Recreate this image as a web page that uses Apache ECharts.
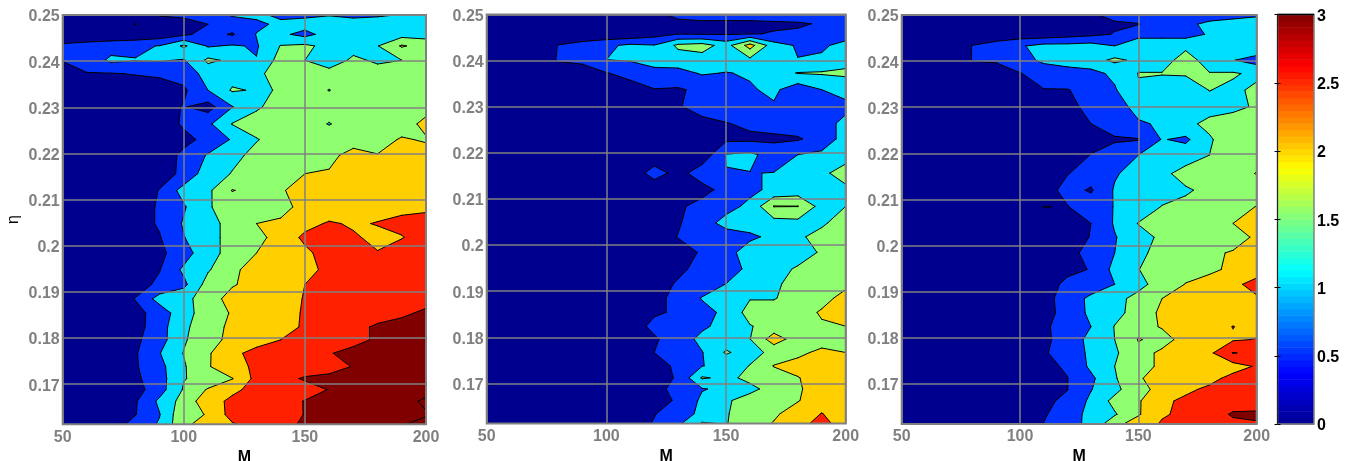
<!DOCTYPE html>
<html><head><meta charset="utf-8">
<style>html,body{margin:0;padding:0;background:#fff}#c{width:1352px;height:461px}</style>
<script src="https://cdn.jsdelivr.net/npm/echarts@6/dist/echarts.min.js"></script>
</head><body><div id="c"></div>
<script>
const mValues=[50,60,70,80,90,100,110,120,130,140,150,160,170,180,190,200];
const etaValues=[.25,.248,.2458,.2433,.2402,.2373,.2337,.2301,.2264,.223,.2196,.2156,.212,.2084,.2048,.2018,.1984,.1948,.1916,.1885,.1854,.1824,.1796,.1767,.1738,.1712,.1688,.1663,.1634,.1613];
const panelA=[
[.1,.1,.1,.2,.55,.6,.7,1.05,1.1,.9,.9,.98,.9,.95,1.02,1.1],
[.1,.1,.1,.52,.1,.3,.5,.75,.9,1.1,1.2,1.2,1.2,1.2,1.2,1.2],
[.1,.1,.1,.1,.2,.4,.7,.45,1.02,1.1,.85,1.2,1.2,1.2,1.3,1.3],
[.6,.7,.8,.9,1.02,1.58,.95,1.05,.95,1.52,1.6,1.35,1.3,1.48,2.05,1.8],
[.52,.7,1.1,1.02,1.05,.96,1.6,1.4,1.02,1.7,1.5,1.2,1.6,1.42,1.5,1.6],
[.3,.48,.48,.52,.55,.7,1.2,1.3,1.4,1.7,1.75,1.7,1.7,1.7,1.7,1.7],
[.1,.1,.2,.3,.35,.42,1.0,1.55,1.46,1.52,1.7,1.49,1.7,1.75,1.75,1.75],
[.1,.1,.1,.2,.3,.53,.3,.98,1.45,1.65,1.7,1.7,1.7,1.75,1.75,1.8],
[.1,.1,.1,.2,.3,.55,.9,1.52,1.65,1.7,1.7,1.48,1.7,1.75,1.75,2.15],
[.1,.1,.1,.2,.3,.4,.6,1.05,1.48,1.65,1.7,1.75,1.75,1.8,2.05,1.95],
[.1,.1,.1,.2,.3,.58,1.05,1.4,1.6,1.65,1.75,1.85,2.2,2.02,2.3,2.2],
[.1,.1,.1,.2,.3,.6,1.3,1.52,1.7,1.85,2.0,2.05,2.2,2.25,2.3,2.35],
[.1,.1,.1,.2,.52,1.2,1.4,2.02,1.85,1.95,2.2,2.25,2.3,2.35,2.4,2.4],
[.1,.1,.1,.3,.55,.95,1.45,1.75,1.8,1.9,2.1,2.2,2.3,2.35,2.4,2.45],
[.1,.1,.1,.3,.55,1.05,1.4,1.6,2.0,2.05,2.35,2.55,2.45,2.52,2.6,2.6],
[.1,.1,.1,.3,.47,.98,1.4,1.6,1.85,2.2,2.6,2.7,2.55,2.4,2.48,2.7],
[.1,.1,.1,.3,.4,.75,1.4,1.6,2.0,2.15,2.4,2.7,2.7,2.52,2.7,2.75],
[.1,.1,.1,.3,.48,1.1,1.45,1.9,2.2,2.3,2.4,2.58,2.7,2.7,2.7,2.8],
[.1,.1,.1,.3,.6,.88,1.7,1.95,2.2,2.3,2.5,2.7,2.75,2.75,2.8,2.8],
[.1,.1,.1,.52,1.2,1.35,1.75,2.2,2.3,2.35,2.52,2.75,2.8,2.8,2.85,2.9],
[.1,.1,.1,.35,.7,1.35,1.7,2.05,2.2,2.3,2.55,2.75,2.8,2.85,2.95,3.05],
[.1,.1,.1,.3,.8,1.4,1.8,2.1,2.15,2.2,2.6,2.75,2.9,3.05,3.1,3.2],
[.1,.1,.1,.4,.8,1.45,1.8,2.15,2.25,2.5,2.6,2.7,2.9,3.05,3.1,3.3],
[.1,.1,.1,.45,.98,1.52,1.95,2.35,2.7,2.75,2.8,2.98,3.1,3.2,3.2,3.3],
[.1,.1,.1,.45,.85,1.45,1.95,2.4,2.55,2.7,2.75,2.85,3.02,3.2,3.25,3.3],
[.1,.1,.1,.4,.8,1.48,1.65,1.98,2.65,2.85,3.05,3.1,3.15,3.2,3.25,3.3],
[.1,.1,.1,.3,.8,1.55,2.05,2.4,2.65,2.75,2.8,3.02,3.2,3.25,3.3,3.3],
[.1,.1,.1,.45,1.1,1.7,2.3,2.6,2.7,2.8,3.02,3.2,3.25,3.3,3.3,3.6],
[.1,.1,.1,.48,.98,1.9,2.02,2.7,2.75,2.75,3.02,3.2,3.25,3.3,3.35,3.45],
[.1,.1,.2,.7,1.05,1.9,2.2,2.45,2.7,2.8,3.1,3.25,3.3,3.35,3.45,3.7]];
const panelB=[
[.1,.1,.1,.1,.1,.1,.2,.45,.55,.6,.6,.6,.65,.7,.75,.8],
[.1,.1,.1,.1,.1,.1,.1,.1,.45,.45,.45,.45,.45,.46,.53,.6],
[.1,.1,.1,.1,.1,.1,.1,.3,.48,.45,.45,.48,.52,.55,.7,.85],
[.1,.1,.1,.52,.7,.9,1.1,1.02,1.6,1.7,1.3,2.2,1.2,.95,.95,1.1],
[.1,.1,.1,.55,.6,1.0,1.05,1.2,1.25,1.3,1.25,1.4,1.3,1.01,1.05,1.3],
[.1,.1,.1,.2,.3,.48,.65,.85,.85,1.05,.98,1.05,1.3,1.52,1.55,1.6],
[.1,.1,.1,.1,.1,.2,.3,.48,.45,.6,.8,.95,1.1,.7,1.0,1.15],
[.1,.1,.1,.1,.1,.1,.2,.3,.47,.65,.8,.8,.95,.9,.95,.9],
[.1,.1,.1,.1,.1,.1,.1,.2,.3,.4,.48,.6,.7,.75,.85,1.1],
[.1,.1,.1,.1,.1,.1,.1,.1,.2,.3,.4,.4,.4,.45,.7,1.2],
[.1,.1,.1,.1,.1,.1,.1,.1,.1,.15,1.02,1.1,.8,1.0,1.1,1.3],
[.1,.1,.1,.1,.1,.1,.1,.75,.3,.8,.99,.99,1.01,1.25,1.4,1.7],
[.1,.1,.1,.1,.1,.1,.1,.1,.2,.3,.7,.9,1.1,1.2,1.3,1.4],
[.1,.1,.1,.1,.1,.1,.1,.1,.4,.7,.85,1.1,2.02,2.01,1.3,1.5],
[.1,.1,.1,.1,.1,.1,.1,.1,.45,.8,1.15,1.2,1.3,1.35,1.4,1.8],
[.1,.1,.1,.1,.1,.1,.1,.2,.52,.8,.8,.92,1.1,1.4,1.7,1.9],
[.1,.1,.1,.1,.1,.1,.1,.1,.3,.55,.85,1.2,1.15,1.3,1.55,1.8],
[.1,.1,.1,.1,.1,.1,.1,.1,.4,.65,.8,1.1,1.35,1.55,1.6,1.75],
[.1,.1,.1,.1,.1,.1,.1,.3,.55,.7,1.0,1.2,1.45,1.6,1.65,1.9],
[.1,.1,.1,.1,.1,.1,.1,.4,.6,1.03,1.2,1.47,1.47,1.7,1.85,2.15],
[.1,.1,.1,.1,.1,.1,.1,.45,.55,.85,1.1,1.7,1.7,1.8,2.05,2.2],
[.1,.1,.1,.1,.1,.1,.3,.6,.7,.9,1.2,1.47,1.7,1.8,1.95,2.0],
[.1,.1,.1,.1,.1,.1,.2,.45,.7,1.15,1.3,1.49,2.25,1.75,1.8,1.85],
[.1,.1,.1,.1,.1,.1,.3,.5,.7,.98,1.55,1.3,1.65,1.9,2.1,2.0],
[.1,.1,.1,.1,.1,.1,.2,.4,.55,.98,1.2,1.52,2.02,2.15,2.2,2.25],
[.1,.1,.1,.1,.1,.1,.2,.3,.55,1.55,1.4,1.6,1.8,1.98,2.2,2.25],
[.1,.1,.1,.1,.1,.1,.2,.4,.6,.97,1.1,1.4,1.65,1.95,2.2,2.3],
[.1,.1,.1,.1,.1,.1,.2,.35,.55,1.1,1.45,1.65,1.75,1.98,2.2,2.3],
[.1,.1,.1,.1,.1,.1,.2,.48,.7,1.15,1.47,1.7,1.95,2.15,2.52,2.2],
[.1,.1,.1,.1,.1,.1,.3,.53,.9,1.55,1.47,1.85,2.02,2.3,2.7,2.2]];
const panelC=[
[.1,.1,.1,.1,.1,.1,.1,.2,.45,.6,.7,.7,.75,.8,.85,.95],
[.1,.1,.1,.1,.1,.1,.1,.1,.3,.45,.48,.8,.9,1.1,1.2,1.2],
[.1,.1,.1,.1,.2,.2,.2,.3,.4,.52,.8,.8,.8,1.05,1.25,1.3],
[.1,.1,.1,.52,.7,.95,1.15,1.15,1.2,1.0,1.4,1.4,1.4,1.35,1.4,1.4],
[.1,.1,.1,.52,.55,.8,1.1,1.2,1.3,1.6,1.4,1.3,1.7,1.3,1.02,.8],
[.1,.1,.1,.2,.3,.48,.7,.8,.85,1.1,1.51,1.52,1.55,1.52,1.55,1.4],
[.1,.1,.1,.1,.1,.2,.48,.48,.65,.95,1.47,1.3,1.2,1.51,1.4,1.6],
[.1,.1,.1,.1,.1,.1,.2,.4,.6,.8,1.15,1.3,1.3,1.35,1.4,1.55],
[.1,.1,.1,.1,.1,.1,.1,.2,.5,.7,.95,1.05,1.4,1.6,1.7,1.75],
[.1,.1,.1,.1,.1,.1,.1,.2,.3,.45,.47,1.03,.9,1.45,1.75,1.8],
[.1,.1,.1,.1,.1,.1,.1,.2,.52,.7,1.0,1.3,1.3,1.5,1.8,1.85],
[.1,.1,.1,.1,.1,.2,.4,.48,.7,.95,1.2,1.4,1.65,1.7,1.8,2.02],
[.1,.1,.1,.1,.1,.1,.3,.65,.45,1.05,1.2,1.3,1.45,1.6,1.7,1.7],
[.1,.1,.1,.1,.1,.2,.51,.48,.75,1.02,1.2,1.52,1.6,1.65,1.75,2.02],
[.1,.1,.1,.1,.1,.1,.2,.35,.5,1.05,1.52,1.6,1.65,1.8,2.0,2.2],
[.1,.1,.1,.1,.1,.1,.2,.3,.52,.97,1.3,1.6,1.7,1.75,1.75,2.1],
[.1,.1,.1,.1,.1,.1,.2,.3,.7,1.0,1.4,1.65,1.7,1.9,2.05,2.2],
[.1,.1,.1,.1,.1,.1,.2,.4,.52,1.15,1.49,1.7,1.8,1.9,2.1,2.3],
[.1,.1,.1,.1,.1,.1,.3,.6,.75,1.0,1.4,1.65,2.02,2.2,2.4,2.65],
[.1,.1,.1,.1,.1,.1,.3,.75,1.1,1.4,1.6,2.0,2.1,2.2,2.3,2.45],
[.1,.1,.1,.1,.1,.1,.3,.7,1.1,1.35,1.7,2.1,2.2,2.25,2.3,2.35],
[.1,.1,.1,.1,.1,.1,.4,.75,1.0,1.52,1.9,2.02,2.2,2.3,2.51,2.35],
[.1,.1,.1,.1,.1,.1,.45,.6,1.2,1.5,2.02,1.9,2.1,2.2,2.45,2.52],
[.1,.1,.1,.1,.1,.1,.45,.7,1.1,1.42,1.9,2.05,2.2,2.4,3.02,2.9],
[.1,.1,.1,.1,.1,.1,.4,.55,1.1,1.5,1.8,2.1,2.2,2.2,2.3,2.55],
[.1,.1,.1,.1,.1,.1,.3,.49,.9,1.45,1.95,2.2,2.3,2.35,2.65,2.75],
[.1,.1,.1,.1,.1,.1,.3,.49,.98,1.35,1.9,2.1,2.4,2.6,2.7,2.8],
[.1,.1,.1,.1,.1,.1,.4,.6,1.1,1.65,1.95,2.4,2.6,2.7,2.8,2.7],
[.1,.1,.1,.1,.1,.1,.45,.75,1.15,1.45,1.95,2.45,2.6,2.8,3.05,3.1],
[.1,.1,.1,.1,.1,.2,.51,.85,1.1,1.85,2.25,2.55,2.6,2.7,2.9,2.95]];
const bandLevels=[0,.5,1,1.5,2,2.5,3];
const bandColors=['#00008f','#0033ff','#00dfff','#8fff70','#ffcf00','#ff2000','#800000'];
const lineLevels=[.5,1,1.5,2,2.5,3,3.5];
const etaTicks=[.17,.18,.19,.2,.21,.22,.23,.24,.25];
const jetStops=[[0,0,0,143],[.125,0,0,255],[.375,0,255,255],[.625,255,255,0],[.875,255,0,0],[1,128,0,0]];
const GRAY='#808080';
const FONT='"Liberation Sans",Arial,sans-serif';

function jet(t){
  for(let i=1;i<jetStops.length;i++){
    if(t<=jetStops[i][0]){
      const a=jetStops[i-1],b=jetStops[i],f=(t-a[0])/(b[0]-a[0]);
      return 'rgb('+[1,2,3].map(k=>Math.round(a[k]+(b[k]-a[k])*f)).join(',')+')';
    }
  }
  return 'rgb(128,0,0)';
}
// walk one grid cell: the parts at or above level L, and the contour segments inside it
function clipCell(c,L){
  const cross=[];
  const lerp=(a,b)=>{const f=(L-a[2])/(b[2]-a[2]);return [a[0]+(b[0]-a[0])*f,a[1]+(b[1]-a[1])*f];};
  const poly=[];
  for(let i=0;i<4;i++){
    const a=c[i],b=c[(i+1)%4];
    const ua=a[2]>=L,ub=b[2]>=L;
    if(ua)poly.push([a[0],a[1]]);
    if(ua!==ub){const p=lerp(a,b);poly.push(p);cross.push({p,up:ub});}
  }
  if(cross.length<4){
    return {polys:poly.length>2?[poly]:[],segs:cross.length===2?[[cross[0].p,cross[1].p]]:[]};
  }
  const mean=(c[0][2]+c[1][2]+c[2][2]+c[3][2])/4;
  const first=cross[0].up;
  if(mean>=L){
    // the high corners join across the cell
    const segs=first?[[cross[1].p,cross[2].p],[cross[3].p,cross[0].p]]:[[cross[0].p,cross[1].p],[cross[2].p,cross[3].p]];
    return {polys:[poly],segs};
  }
  // the high corners stay apart, each in its own triangle
  const polys=[];
  for(let i=0;i<4;i++){
    if(c[i][2]>=L){
      const p=c[(i+3)%4],n=c[(i+1)%4];
      polys.push([lerp(p,c[i]),[c[i][0],c[i][1]],lerp(c[i],n)]);
    }
  }
  const segs=polys.map(t=>[t[0],t[2]]);
  return {polys,segs};
}
function contourSeries(panel,gi){
  const items=bandLevels.map((L,i)=>({kind:'band',i}));
  lineLevels.forEach(L=>items.push({kind:'line',L}));
  items.push({kind:'frame'});
  return {
    type:'custom',coordinateSystem:'cartesian2d',xAxisIndex:gi,yAxisIndex:gi,silent:true,clip:false,
    animation:false,z:2,
    data:items.map(()=>[mValues[0],etaValues[0]]),
    renderItem(params,api){
      const it=items[params.dataIndex];
      const pt=(m,e)=>api.coord([m,e]);
      if(it.kind==='frame'){
        const a=pt(50,.25),b=pt(200,etaValues[etaValues.length-1]);
        return {type:'rect',z2:50,shape:{x:a[0],y:a[1],width:b[0]-a[0],height:b[1]-a[1]},
          style:{fill:'none',stroke:GRAY,lineWidth:2},silent:true};
      }
      const L=it.kind==='band'?bandLevels[it.i]:it.L;
      let d='';
      const f=v=>v.toFixed(2);
      for(let r=0;r<etaValues.length-1;r++){
        for(let c=0;c<mValues.length-1;c++){
          const cs=[[c,r],[c+1,r],[c+1,r+1],[c,r+1]].map(([x,y])=>{
            const p=pt(mValues[x],etaValues[y]);
            return [p[0],p[1],panel[y][x]];
          });
          const {polys,segs}=clipCell(cs,L);
          if(it.kind==='band'){
            polys.forEach(q=>{d+='M'+q.map(p=>f(p[0])+' '+f(p[1])).join('L')+'Z';});
          }else{
            segs.forEach(s=>{d+='M'+f(s[0][0])+' '+f(s[0][1])+'L'+f(s[1][0])+' '+f(s[1][1]);});
          }
        }
      }
      if(!d)return null;
      return it.kind==='band'
        ?{type:'path',shape:{pathData:d},style:{fill:bandColors[it.i]},silent:true}
        :{type:'path',shape:{pathData:d},style:{fill:'none',stroke:'#000',lineWidth:1,lineCap:'round',lineJoin:'round'},silent:true};
    }
  };
}
const boxes=[[62.7,426,15,424.3],[486.7,845.7,14.5,423.5],[901.7,1256.7,15,424]];
const grids=boxes.map(b=>({left:b[0],width:b[1]-b[0],top:b[2],height:b[3]-b[2],outerBoundsMode:'none'}));
grids.push({left:1277.5,width:36.5,top:14.5,height:409.5,outerBoundsMode:'none'});
const labelStyle={color:GRAY,fontFamily:FONT,fontWeight:'bold',fontSize:16};
const xAxes=boxes.map((b,i)=>({
  gridIndex:i,type:'value',min:50,max:200,interval:50,z:5,
  name:'M',nameLocation:'middle',nameGap:25,nameMoveOverlap:false,
  nameTextStyle:{color:'#000',fontFamily:FONT,fontWeight:'bold',fontSize:16},
  axisLine:{show:false},axisTick:{show:false},
  axisLabel:{...labelStyle,margin:5},
  splitLine:{show:true,lineStyle:{color:GRAY,width:1.5}}
}));
const yAxes=boxes.map((b,i)=>({
  gridIndex:i,type:'value',min:etaValues[etaValues.length-1],max:.25,z:5,
  name:i===0?'η':'',nameLocation:'middle',nameGap:41,nameMoveOverlap:false,
  nameTextStyle:{color:'#000',fontFamily:FONT,fontSize:16},
  axisLine:{show:false},
  axisTick:{show:false,customValues:etaTicks},
  axisLabel:{...labelStyle,margin:3,verticalAlign:'top',lineHeight:4,customValues:etaTicks,formatter:v=>String(+v.toFixed(2))},
  splitLine:{show:true,lineStyle:{color:GRAY,width:1.5}}
}));
xAxes.push({gridIndex:3,type:'value',min:0,max:1,show:false});
yAxes.push({gridIndex:3,type:'value',min:0,max:3,interval:.5,position:'right',z:5,
  axisLine:{show:false},
  axisTick:{show:true,inside:true,length:3,lineStyle:{color:'#000',width:1}},
  axisLabel:{color:'#000',fontFamily:FONT,fontWeight:'bold',fontSize:16,margin:3,verticalAlign:'top',lineHeight:4},
  splitLine:{show:false}});
yAxes.push({gridIndex:3,type:'value',min:0,max:3,interval:.5,position:'left',z:5,
  axisLine:{show:false},
  axisTick:{show:true,inside:true,length:3,lineStyle:{color:'#000',width:1}},
  axisLabel:{show:false},splitLine:{show:false}});
const barSteps=Array.from({length:64},(_,i)=>i);
const barSeries={
  type:'custom',coordinateSystem:'cartesian2d',xAxisIndex:3,yAxisIndex:3,silent:true,animation:false,z:2,
  data:barSteps.map(i=>[0,i*3/64,1,(i+1)*3/64]),
  renderItem(params,api){
    const a=api.coord([api.value(0),api.value(3)]),b=api.coord([api.value(2),api.value(1)]);
    return {type:'rect',shape:{x:a[0],y:a[1],width:b[0]-a[0],height:b[1]-a[1]+.5},
      style:{fill:jet((params.dataIndex+.5)/64)},silent:true};
  }
};
const barFrame={
  type:'custom',coordinateSystem:'cartesian2d',xAxisIndex:3,yAxisIndex:3,silent:true,animation:false,z:3,
  data:[[0,0,1,3]],
  renderItem(params,api){
    const a=api.coord([0,3]),b=api.coord([1,0]);
    return {type:'group',children:[
      {type:'rect',shape:{x:a[0],y:a[1],width:b[0]-a[0],height:b[1]-a[1]},style:{fill:'none',stroke:GRAY,lineWidth:1.5}},
      {type:'line',shape:{x1:a[0],y1:a[1],x2:b[0],y2:a[1]},style:{stroke:'#000',lineWidth:1.5}},
      {type:'line',shape:{x1:a[0],y1:a[1],x2:a[0],y2:b[1]},style:{stroke:'#222',lineWidth:1}}
    ]};
  }
};
const chart=echarts.init(document.getElementById('c'),null,{renderer:'canvas'});
chart.setOption({
  animation:false,backgroundColor:'#fff',grid:grids,xAxis:xAxes,yAxis:yAxes,
  series:[contourSeries(panelA,0),contourSeries(panelB,1),contourSeries(panelC,2),barSeries,barFrame]
});
</script></body></html>
